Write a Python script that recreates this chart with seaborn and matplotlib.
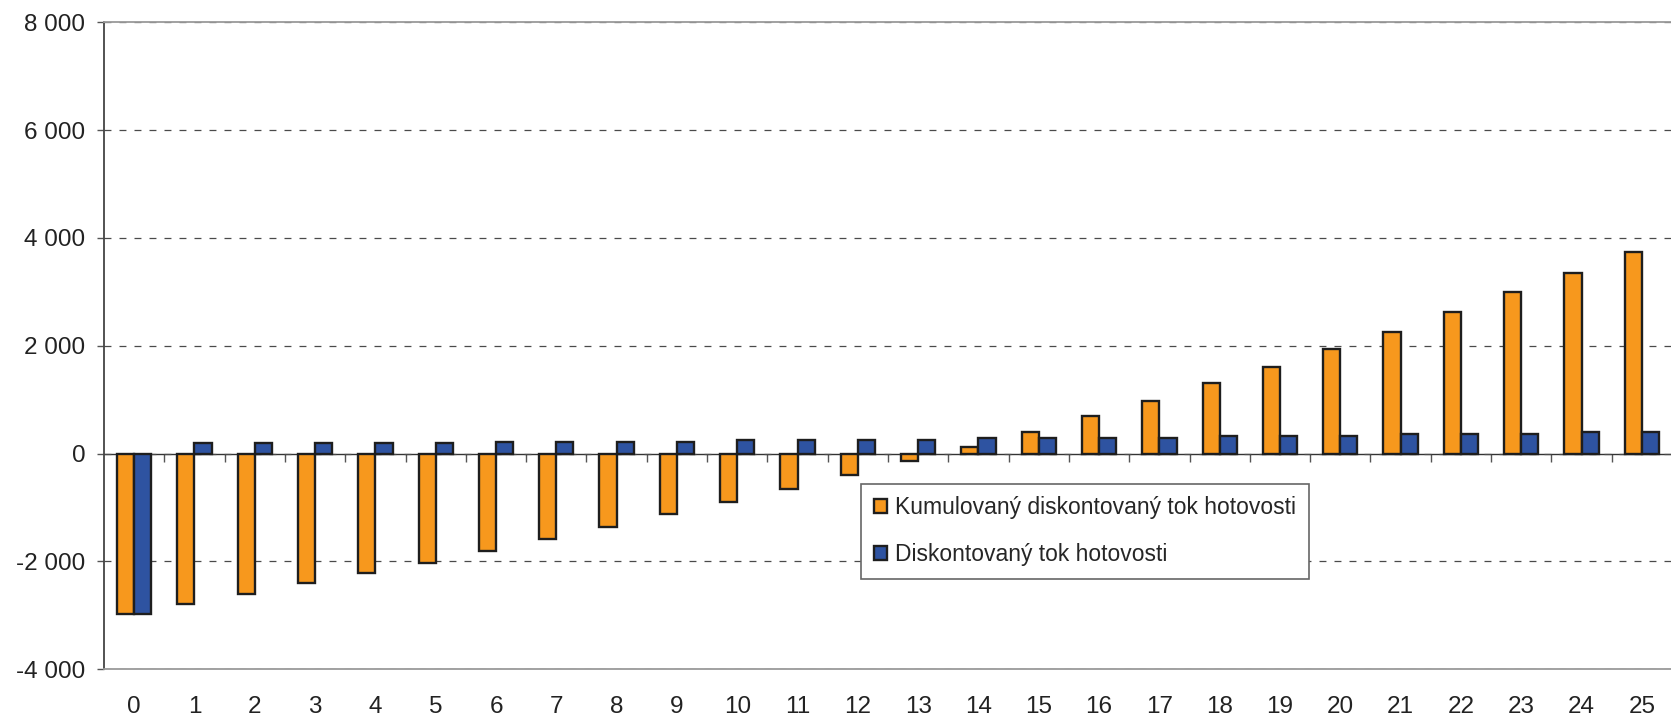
import matplotlib
matplotlib.use('Agg')
import matplotlib.pyplot as plt
import matplotlib.ticker as mticker
import pandas as pd
import seaborn as sb

# roky 0..25
roky = [str(i) for i in range(26)]

kumulovany = [-2970, -2780, -2600, -2400, -2210, -2020, -1800, -1590, -1355, -1120,
              -890, -660, -405, -140, 130, 395, 690, 985, 1310, 1615,
              1940, 2260, 2620, 2990, 3355, 3745]
diskontovany = [-2970, 190, 190, 190, 190, 190, 225, 225, 225, 225,
                255, 255, 255, 255, 290, 290, 290, 290, 330, 330,
                330, 360, 360, 360, 395, 395]

serie = ['Kumulovaný diskontovaný tok hotovosti', 'Diskontovaný tok hotovosti']
barvy = ['#F7981D', '#2E53A1']


def main():
	sb.set_style('white')
	plt.rcParams['font.family'] = ['Liberation Sans', 'DejaVu Sans']
	plt.rcParams['lines.scale_dashes'] = False

	df = pd.DataFrame({
		'rok': roky * 2,
		'hodnota': kumulovany + diskontovany,
		'serie': [serie[0]] * len(roky) + [serie[1]] * len(roky),
	})

	fig = plt.figure(figsize=(16.71, 7.16), dpi=100)
	left, right = 104 / 1671, 1672 / 1671
	top, bottom = 1 - 22.3 / 716, 1 - 669.3 / 716
	ax = fig.add_axes([left, bottom, right - left, top - bottom])

	sb.barplot(
		data=df, x='rok', y='hodnota', hue='serie',
		order=roky, hue_order=serie, palette=barvy,
		width=0.57, gap=0, edgecolor='#1e1e1e', linewidth=1.7,
		saturation=1, ax=ax, zorder=3
	)

	ax.set_xlim(-0.5, len(roky) - 0.5)
	ax.set_ylim(-4000, 8000)
	ax.set_yticks(range(-4000, 8001, 2000))
	ax.yaxis.set_major_formatter(mticker.FuncFormatter(
		lambda v, _: f'{v:,.0f}'.replace(',', ' ')))
	ax.set_xlabel('')
	ax.set_ylabel('')

	ax.yaxis.grid(True, color='#4a4a4a', linewidth=0.9, linestyle=(0, (5, 5.8)), zorder=1)
	ax.xaxis.grid(False)
	ax.set_axisbelow(True)

	ax.tick_params(axis='x', length=0, pad=19, labelsize=17.5, colors='#222222')
	ax.tick_params(axis='y', length=5, width=1, pad=8.5, labelsize=17.5,
	               color='#555555', labelcolor='#222222', direction='out', left=True)

	for s in ('top', 'bottom'):
		ax.spines[s].set_color('#9a9a9a')
		ax.spines[s].set_linewidth(1.3)
	ax.spines['left'].set_color('#444444')
	ax.spines['left'].set_linewidth(1.3)
	ax.spines['right'].set_visible(False)

	# osa x prochazi nulou, carky mezi kategoriemi
	nula = ax.secondary_xaxis(4000 / 12000)
	nula.set_xticks([i + 0.5 for i in range(len(roky) - 1)])
	nula.tick_params(length=5.5, width=1, color='#555555', labelbottom=False, direction='out')
	nula.spines['bottom'].set_color('#333333')
	nula.spines['bottom'].set_linewidth(1)

	handles, labels = ax.get_legend_handles_labels()
	ax.legend(
		handles, labels,
		loc='lower left', bbox_to_anchor=(0.483, 0.1396),
		borderaxespad=0, fontsize=16.5, frameon=True, fancybox=False,
		edgecolor='#666666', framealpha=1,
		handlelength=0.57, handleheight=0.57, handletextpad=0.35,
		labelspacing=1.05, borderpad=0.55
	)
	ax.get_legend().get_frame().set_linewidth(1.2)

	fig.savefig('out.png', dpi=100)


if __name__ == '__main__':
	main()
